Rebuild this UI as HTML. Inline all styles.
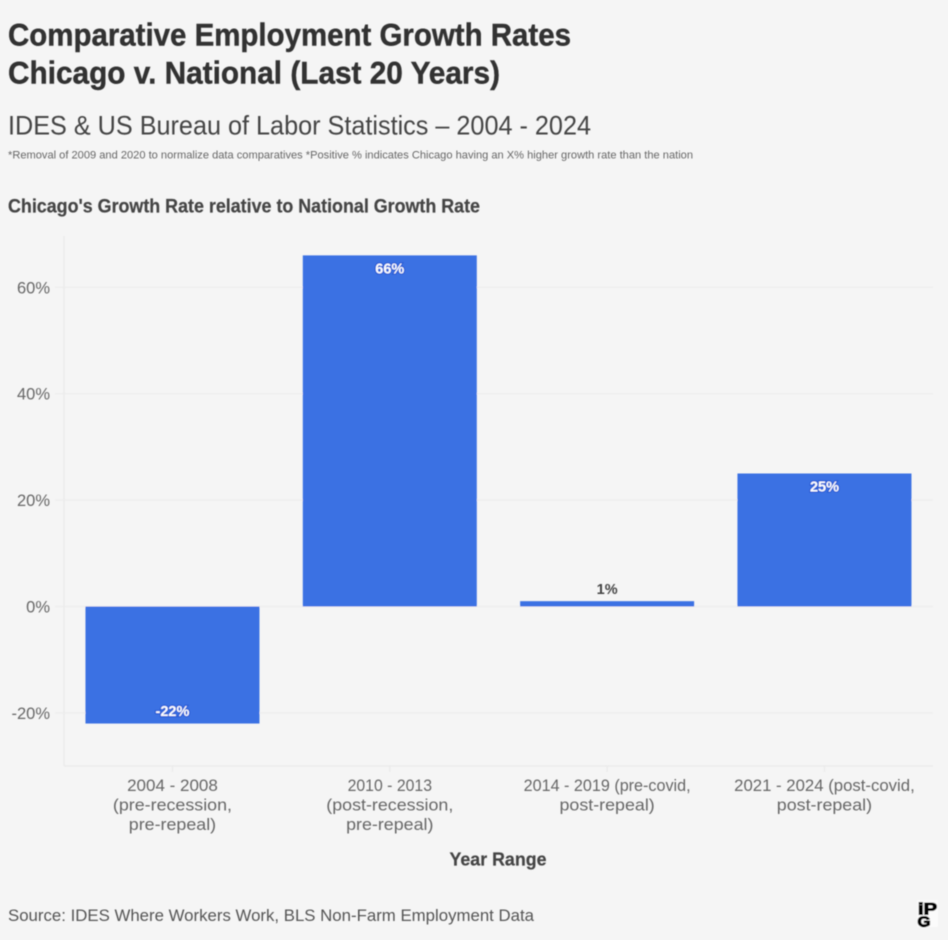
<!DOCTYPE html>
<html lang="en">
<head>
<meta charset="utf-8">
<title>Comparative Employment Growth Rates</title>
<style>
html,body{margin:0;padding:0;background:#f5f5f5;width:948px;height:940px;overflow:hidden}
svg{display:block;font-family:"Liberation Sans",sans-serif}
</style>
</head>
<body>
<svg id="chart" width="948" height="940" viewBox="0 0 948 940" xmlns="http://www.w3.org/2000/svg">
  <defs><filter id="soft" x="-2%" y="-2%" width="104%" height="104%"><feGaussianBlur stdDeviation="0.55"/></filter></defs>
  <rect width="948" height="940" fill="#f5f5f5"/>
  <g id="root" filter="url(#soft)">
    <text x="8" y="45.5" font-size="31.5" font-weight="700" fill="#333" stroke="#333" stroke-width="0.4" textLength="563" lengthAdjust="spacingAndGlyphs">Comparative Employment Growth Rates</text>
    <text x="8" y="83.5" font-size="31.5" font-weight="700" fill="#333" stroke="#333" stroke-width="0.4" textLength="492" lengthAdjust="spacingAndGlyphs">Chicago v. National (Last 20 Years)</text>
    <text x="8" y="134.5" font-size="27" fill="#444" textLength="583" lengthAdjust="spacingAndGlyphs">IDES &amp; US Bureau of Labor Statistics – 2004 - 2024</text>
    <text x="8" y="158.5" font-size="11" fill="#666" textLength="685" lengthAdjust="spacingAndGlyphs">*Removal of 2009 and 2020 to normalize data comparatives *Positive % indicates Chicago having an X% higher growth rate than the nation</text>
    <text x="8" y="212.5" font-size="19" font-weight="700" fill="#444" stroke="#444" stroke-width="0.2" textLength="472" lengthAdjust="spacingAndGlyphs">Chicago's Growth Rate relative to National Growth Rate</text>
    <g id="plot"></g>
    <text x="498" y="865.5" font-size="18.5" font-weight="700" fill="#444" stroke="#444" stroke-width="0.2" text-anchor="middle" textLength="97" lengthAdjust="spacingAndGlyphs">Year Range</text>
    <text x="8" y="921" font-size="16.5" fill="#555" textLength="526" lengthAdjust="spacingAndGlyphs">Source: IDES Where Workers Work, BLS Non-Farm Employment Data</text>
    <g>
      <rect x="917" y="900" width="21" height="27" fill="#fbfbfb"/>
      <text x="918" y="914.5" font-size="17" font-weight="700" stroke="#000" stroke-width="1.1" fill="#000" textLength="19" lengthAdjust="spacingAndGlyphs">iP</text>
      <text x="917.5" y="926.5" font-size="15" font-weight="700" stroke="#000" stroke-width="1.1" fill="#000" textLength="13" lengthAdjust="spacingAndGlyphs">G</text>
    </g>
  </g>
</svg>
<script>
const categories = [
  ["2004 - 2008", "(pre-recession,", "pre-repeal)"],
  ["2010 - 2013", "(post-recession,", "pre-repeal)"],
  ["2014 - 2019 (pre-covid,", "post-repeal)"],
  ["2021 - 2024 (post-covid,", "post-repeal)"]
];
const growthValues = [-22, 66, 1, 25];
const yTicks = [-20, 0, 20, 40, 60];

const NS = "http://www.w3.org/2000/svg";
const plot = document.getElementById("plot");
const left = 64, right = 933, axisBottom = 766, axisTop = 236;
const zeroY = 606.5, pxPerUnit = 5.32;
const bandStart = 63.8, bandStep = 217.33, barWidth = 174;
const yScale = v => zeroY - v * pxPerUnit;
const xCenter = i => bandStart + bandStep * (i + 0.5);

function add(tag, attrs, text) {
  const el = document.createElementNS(NS, tag);
  for (const k in attrs) el.setAttribute(k, attrs[k]);
  if (text !== undefined) el.textContent = text;
  plot.appendChild(el);
  return el;
}

// Approximates the reference typeface: wider letters, narrow numeral 1.
function lineScale(line) {
  const hasDigit = /\d/.test(line), hasLetter = /[a-z]/.test(line);
  const ones = (line.match(/1/g) || []).length;
  let s = 1 - 0.035 * ones;
  if (!hasDigit) s += 0.05;
  else if (hasLetter) s += 0.02;
  return s;
}

yTicks.forEach(t => {
  const grid = add("line", {x1: 55, x2: right, y1: yScale(t), y2: yScale(t), stroke: "#eeeeee", "stroke-width": 1.4});
  
  
  const label = add("text", {x: 50, y: yScale(t) + 6, "text-anchor": "end", "font-size": 16.5, fill: "#666"}, t + "%");
  
  
});

const yAxis = add("line", {x1: left, x2: left, y1: axisTop, y2: axisBottom, stroke: "#ebebeb", "stroke-width": 1.5});


const xAxis = add("line", {x1: left, x2: right, y1: axisBottom, y2: axisBottom, stroke: "#ebebeb", "stroke-width": 1.5});



growthValues.forEach((v, i) => {
  const cx = xCenter(i);
  const y0 = yScale(Math.max(v, 0)), y1 = yScale(Math.min(v, 0));
  const bar = add("rect", {x: cx - barWidth / 2, y: y0, width: barWidth, height: y1 - y0, fill: "#3b71e3"});
  
  

  const tick = add("line", {x1: cx, x2: cx, y1: axisBottom, y2: axisBottom + 6, stroke: "#ebebeb", "stroke-width": 1.4});
  
  

  categories[i].forEach((line, j) => {
    const t = add("text", {x: cx, y: 791 + j * 19.6, "text-anchor": "middle", "font-size": 17, fill: "#666"}, line);
    
    
    t.setAttribute('lengthAdjust', 'spacingAndGlyphs');
    t.setAttribute('textLength', t.getComputedTextLength() * lineScale(line));
  });

  const inside = Math.abs(v) >= 10;
  const labelY = v < 0 ? y1 - 7.5 : (inside ? y0 + 18 : y0 - 7);
  const lab = add("text", {x: cx, y: labelY, "text-anchor": "middle", "font-size": 14.5, "font-weight": 700,
    fill: inside ? "#ffffff" : "#444444"}, v + "%");
  if (inside) {
    lab.setAttribute('stroke', '#2c5fd6');
    lab.setAttribute('stroke-width', '2.5');
    lab.setAttribute('paint-order', 'stroke');
  }
  
  
});
</script>
</body>
</html>
